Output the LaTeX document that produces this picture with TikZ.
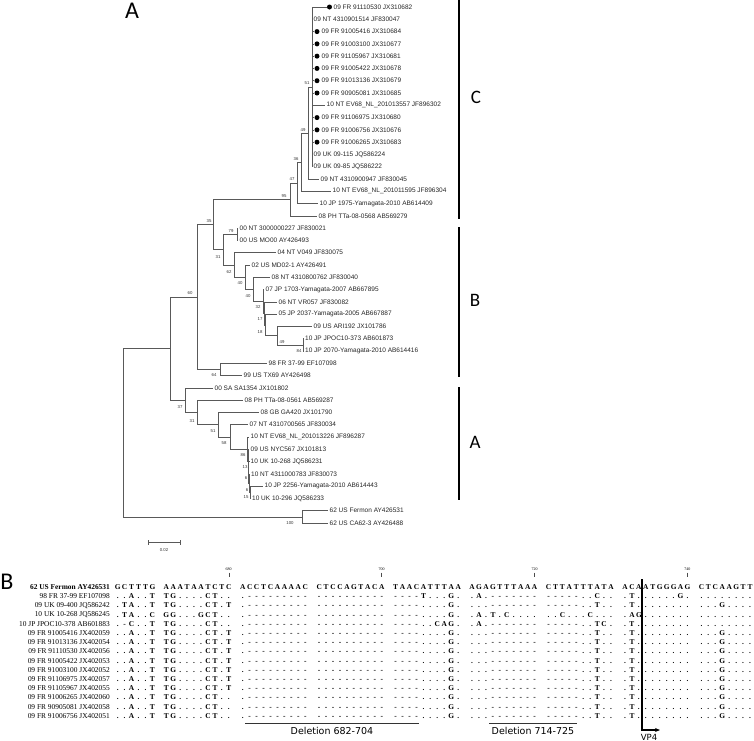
\documentclass[tikz,border=0pt]{standalone}
\usepackage{fontspec}
\newfontfamily\arialf{Liberation Sans}
\newfontfamily\timesf{Liberation Serif}
\newfontfamily\calf{Carlito}
\newfontfamily\verf{DejaVu Sans}
\usetikzlibrary{arrows.meta}
\def\seqrun#1{\ifx#1\relax\else\ifx#1,\makebox[6.95pt]{}\else\makebox[6.95pt][c]{#1}\fi\expandafter\seqrun\fi}
\tikzset{
  tl/.style={draw=black!65, line width=0.55pt},
  leaf/.style={font=\arialf\fontsize{6.5}{7}\selectfont, text=black!85, inner xsep=1.5pt, inner ysep=0pt, anchor=west},
  bs/.style={font=\arialf\fontsize{4.3}{5}\selectfont, text=black!80, inner sep=0pt},
  dotn/.style={circle, fill=black, minimum size=5pt, inner sep=0pt},
  clade/.style={draw=black, line width=1.1pt},
  cladelab/.style={font=\calf\fontsize{19}{20}\selectfont, inner sep=0pt},
  panel/.style={font=\calf\fontsize{24}{26}\selectfont, inner sep=0pt},
  sqname/.style={font=\timesf\fontsize{7.4}{8}\selectfont, anchor=east, inner sep=0pt},
  sq/.style={font=\timesf\bfseries\fontsize{7.4}{8}\selectfont, anchor=west, inner sep=0pt},
  tick/.style={font=\timesf\fontsize{4}{4.5}\selectfont, inner sep=0pt},
  dellab/.style={font=\verf\fontsize{9.5}{10}\selectfont, inner sep=0pt},
}
\begin{document}
\begin{tikzpicture}[x=1pt,y=-1pt]
\useasboundingbox (0,0) rectangle (754,740);
% ---------- panel labels
\node[panel] (pA) at (132,11) {A};
\node[panel] (pB) at (7,582) {B};
% ---------- internal nodes
\coordinate (nC51) at (312,86.86);
\coordinate (nC49) at (308,132.93);
\coordinate (nC36) at (301,162.11);
\coordinate (nC47) at (297,182.85);
\coordinate (nC95) at (290,199.35);
\coordinate (nB79) at (237,234.29);
\coordinate (nB84) at (303,344.86);
\coordinate (nB49) at (277,335.65);
\coordinate (nB18) at (265,324.9);
\coordinate (nB17) at (264,313.38);
\coordinate (nB32) at (263,301.48);
\coordinate (nB40b) at (253,289.39);
\coordinate (nB40a) at (245,277.19);
\coordinate (nB62) at (234,264.96);
\coordinate (nB31) at (223,249.62);
\coordinate (n35) at (213,224.49);
\coordinate (n64) at (220,369.44);
\coordinate (n60) at (197,296.96);
\coordinate (nA15) at (250,492.3);
\coordinate (nA6b) at (249,483.08);
\coordinate (nA6a) at (248.5,472.33);
\coordinate (nA13) at (248,460.81);
\coordinate (nA86) at (247.5,448.91);
\coordinate (nA58) at (230,436.82);
\coordinate (nA51) at (218,424.62);
\coordinate (nA31) at (197,412.39);
\coordinate (nA37) at (185,400.12);
\coordinate (n170) at (170,348.54);
\coordinate (nO) at (302,516.86);
\coordinate (root) at (123,432.7);
% ---------- leaves, clade C
\node[dotn] (D1) at (329.5,7) {};
\node[leaf] (L1) at (332,7) {09 FR 91110530 JX310682};
\node[leaf] (L2) at (312,19.29) {09 NT 4310901514 JF830047};
\node[dotn] (D3) at (317,31.57) {};
\node[leaf] (L3) at (320,31.57) {09 FR 91005416 JX310684};
\node[dotn] (D4) at (317,43.86) {};
\node[leaf] (L4) at (320,43.86) {09 FR 91003100 JX310677};
\node[dotn] (D5) at (317,56.14) {};
\node[leaf] (L5) at (320,56.14) {09 FR 91105967 JX310681};
\node[dotn] (D6) at (317,68.43) {};
\node[leaf] (L6) at (320,68.43) {09 FR 91005422 JX310678};
\node[dotn] (D7) at (317,80.72) {};
\node[leaf] (L7) at (320,80.72) {09 FR 91013136 JX310679};
\node[dotn] (D8) at (317,93.0) {};
\node[leaf] (L8) at (320,93.0) {09 FR 90905081 JX310685};
\node[leaf] (L9) at (325,105.29) {10 NT EV68\_NL\_201013557 JF896302};
\node[dotn] (D10) at (317,117.57) {};
\node[leaf] (L10) at (320,117.57) {09 FR 91106975 JX310680};
\node[dotn] (D11) at (317,129.86) {};
\node[leaf] (L11) at (320,129.86) {09 FR 91006756 JX310676};
\node[dotn] (D12) at (317,142.15) {};
\node[leaf] (L12) at (320,142.15) {09 FR 91006265 JX310683};
\node[leaf] (L13) at (312,154.43) {09 UK 09-115 JQ586224};
\node[leaf] (L14) at (312,166.72) {09 UK 09-85 JQ586222};
\node[leaf] (L15) at (319,179.0) {09 NT 4310900947 JF830045};
\node[leaf] (L16) at (331,191.29) {10 NT EV68\_NL\_201011595 JF896304};
\node[leaf] (L17) at (318,203.58) {10 JP 1975-Yamagata-2010 AB614409};
\node[leaf] (L18) at (317,215.86) {08 PH TTa-08-0568 AB569279};
% ---------- clade B
\node[leaf] (L19) at (238,228.15) {00 NT 3000000227 JF830021};
\node[leaf] (L20) at (238,240.43) {00 US MO00 AY426493};
\node[leaf] (L21) at (276,252.72) {04 NT V049 JF830075};
\node[leaf] (L22) at (250,265.0) {02 US MD02-1 AY426491};
\node[leaf] (L23) at (270,277.29) {08 NT 4310800762 JF830040};
\node[leaf] (L24) at (264,289.58) {07 JP 1703-Yamagata-2007 AB667895};
\node[leaf] (L25) at (277,301.86) {06 NT VR057 JF830082};
\node[leaf] (L26) at (277,314.15) {05 JP 2037-Yamagata-2005 AB667887};
\node[leaf] (L27) at (312,326.43) {09 US ARI192 JX101786};
\node[leaf] (L28) at (303.5,338.72) {10 JP JPOC10-373 AB601873};
\node[leaf] (L29) at (303.5,351.0) {10 JP 2070-Yamagata-2010 AB614416};
\node[leaf] (L30) at (267,363.29) {98 FR 37-99 EF107098};
\node[leaf] (L31) at (242,375.58) {99 US TX69 AY426498};
% ---------- clade A
\node[leaf] (L32) at (213,387.86) {00 SA SA1354 JX101802};
\node[leaf] (L33) at (243,400.15) {08 PH TTa-08-0561 AB569287};
\node[leaf] (L34) at (259,412.43) {08 GB GA420 JX101790};
\node[leaf] (L35) at (248,424.72) {07 NT 4310700565 JF830034};
\node[leaf] (L36) at (249,437.01) {10 NT EV68\_NL\_201013226 JF896287};
\node[leaf] (L37) at (249,449.29) {09 US NYC567 JX101813};
\node[leaf] (L38) at (249,461.58) {10 UK 10-268 JQ586231};
\node[leaf] (L39) at (249.5,473.86) {10 NT 4311000783 JF830073};
\node[leaf] (L40) at (263,486.15) {10 JP 2256-Yamagata-2010 AB614443};
\node[leaf] (L41) at (250.5,498.44) {10 UK 10-296 JQ586233};
\node[leaf] (L42) at (328,510.72) {62 US Fermon AY426531};
\node[leaf] (L43) at (328,523.0) {62 US CA62-3 AY426488};
% ---------- branches
\foreach \c in {D1,L2,D3,D4,D5,D6,D7,D8,L9,D10,D11,D12,L13,L14} \draw[tl] (nC51) |- (\c.west);
\draw[tl] (nC49) |- (nC51); \draw[tl] (nC49) |- (L15.west);
\draw[tl] (nC36) |- (nC49); \draw[tl] (nC36) |- (L16.west);
\draw[tl] (nC47) |- (nC36); \draw[tl] (nC47) |- (L17.west);
\draw[tl] (nC95) |- (nC47); \draw[tl] (nC95) |- (L18.west);
\draw[tl] (nB79) |- (L19.west); \draw[tl] (nB79) |- (L20.west);
\draw[tl] (nB84) |- (L28.west); \draw[tl] (nB84) |- (L29.west);
\draw[tl] (nB49) |- (L27.west); \draw[tl] (nB49) |- (nB84);
\draw[tl] (nB18) |- (L26.west); \draw[tl] (nB18) |- (nB49);
\draw[tl] (nB17) |- (L25.west); \draw[tl] (nB17) |- (nB18);
\draw[tl] (nB32) |- (L24.west); \draw[tl] (nB32) |- (nB17);
\draw[tl] (nB40b) |- (L23.west); \draw[tl] (nB40b) |- (nB32);
\draw[tl] (nB40a) |- (L22.west); \draw[tl] (nB40a) |- (nB40b);
\draw[tl] (nB62) |- (L21.west); \draw[tl] (nB62) |- (nB40a);
\draw[tl] (nB31) |- (nB79); \draw[tl] (nB31) |- (nB62);
\draw[tl] (n35) |- (nC95); \draw[tl] (n35) |- (nB31);
\draw[tl] (n64) |- (L30.west); \draw[tl] (n64) |- (L31.west);
\draw[tl] (n60) |- (n35); \draw[tl] (n60) |- (n64);
\draw[tl] (nA15) |- (L40.west); \draw[tl] (nA15) |- (L41.west);
\draw[tl] (nA6b) |- (L39.west); \draw[tl] (nA6b) |- (nA15);
\draw[tl] (nA6a) |- (L38.west); \draw[tl] (nA6a) |- (nA6b);
\draw[tl] (nA13) |- (L37.west); \draw[tl] (nA13) |- (nA6a);
\draw[tl] (nA86) |- (L36.west); \draw[tl] (nA86) |- (nA13);
\draw[tl] (nA58) |- (L35.west); \draw[tl] (nA58) |- (nA86);
\draw[tl] (nA51) |- (L34.west); \draw[tl] (nA51) |- (nA58);
\draw[tl] (nA31) |- (L33.west); \draw[tl] (nA31) |- (nA51);
\draw[tl] (nA37) |- (L32.west); \draw[tl] (nA37) |- (nA31);
\draw[tl] (n170) |- (n60); \draw[tl] (n170) |- (nA37);
\draw[tl] (nO) |- (L42.west); \draw[tl] (nO) |- (L43.west);
\draw[tl] (root) |- (n170); \draw[tl] (root) |- (nO);
% ---------- bootstrap values
\node[bs] (b1) at (307,83) {51};
\node[bs] (b2) at (303,130) {49};
\node[bs] (b3) at (296,159) {36};
\node[bs] (b4) at (292,179) {47};
\node[bs] (b5) at (284,196) {95};
\node[bs] (b6) at (209,221) {35};
\node[bs] (b7) at (231,231) {79};
\node[bs] (b8) at (218,257) {31};
\node[bs] (b9) at (229,272) {62};
\node[bs] (b10) at (240,283) {40};
\node[bs] (b11) at (248,296) {40};
\node[bs] (b12) at (258,307) {32};
\node[bs] (b13) at (260,319) {17};
\node[bs] (b14) at (260,332) {18};
\node[bs] (b15) at (282,342) {49};
\node[bs] (b16) at (299,351) {84};
\node[bs] (b17) at (190,293) {60};
\node[bs] (b18) at (214,375) {64};
\node[bs] (b19) at (180,407) {37};
\node[bs] (b20) at (192,421) {31};
\node[bs] (b21) at (213,431) {51};
\node[bs] (b22) at (224,443) {58};
\node[bs] (b23) at (243,455) {86};
\node[bs] (b24) at (245,467) {13};
\node[bs] (b25) at (246,478) {6};
\node[bs] (b26) at (247,490) {6};
\node[bs] (b27) at (246,497) {15};
\node[bs] (b28) at (290,523) {100};
% ---------- clade bars
\draw[clade] (459,0) -- (459,219);
\draw[clade] (459,227) -- (459,377);
\draw[clade] (459,387) -- (459,500);
\node[cladelab] (cC) at (476,97) {C};
\node[cladelab] (cB) at (475,300) {B};
\node[cladelab] (cA) at (475,442) {A};
% ---------- scale bar
\coordinate (sb1) at (148,542); \coordinate (sb2) at (180,542);
\draw[tl] (sb1) -- (sb2);
\draw[tl] ([yshift=-2.5pt]sb1) -- ([yshift=2.5pt]sb1);
\draw[tl] ([yshift=-2.5pt]sb2) -- ([yshift=2.5pt]sb2);
\node[bs] (sbl) at (164,550) {0.02};
% ---------- alignment: position ticks
\foreach \x/\t in {228.7/680,381.6/700,534.5/720,687.4/740}{
  \node[tick] at (\x,569) {\t};
  \draw[black!70, line width=0.4pt] (\x,572.5) -- (\x,577);
}
% ---------- alignment rows
\node[sqname,font=\timesf\bfseries\fontsize{7.4}{8}\selectfont] (m0) at (110,587) {62 US Fermon AY426531};
\node[sq] (s0) at (114,587) {\seqrun GCTTTG,AAATAATCTC,ACCTCAAAAC,CTCCAGTACA,TAACATTTAA,AGAGTTTAAA,CTTATTTATA,ACAATGGGAG,CTCAAGTT\relax};
\node[sqname] (m1) at (110,596.2) {98 FR 37-99 EF107098};
\node[sq] (s1) at (114,596.2) {\seqrun ..A..T,TG....CT..,.---------,----------,----T...G.,.A.-------,-----..C..,.T......G.,........\relax};
\node[sqname] (m2) at (110,605.4) {09 UK 09-400 JQ586242};
\node[sq] (s2) at (114,605.4) {\seqrun .TA..T,TG....CT.T,.---------,----------,----....G.,...-------,-----..T..,.T........,...G....\relax};
\node[sqname] (m3) at (110,614.6) {10 UK 10-268 JQ586245};
\node[sq] (s3) at (114,614.6) {\seqrun .TA..C,GG...GCT..,.---------,----------,----....G.,.A.T.C....,..C...C...,.AG.......,........\relax};
\node[sqname] (m4) at (110,623.8) {10 JP JPOC10-378 AB601883};
\node[sq] (s4) at (114,623.8) {\seqrun .-C..T,TG....CT..,.---------,----------,----..CAG.,.A.-------,-----..TC.,.T........,........\relax};
\foreach \i/\nm/\gb in {5/09 FR 91005416 JX402059/CT.T,6/09 FR 91013136 JX402054/CT.T,7/09 FR 91110530 JX402056/CT.T,8/09 FR 91005422 JX402053/CT.T,9/09 FR 91003100 JX402052/CT.T,10/09 FR 91106975 JX402057/CT.T,11/09 FR 91105967 JX402055/CT.T,12/09 FR 91006265 JX402060/CT..,13/09 FR 90905081 JX402058/CT..,14/09 FR 91006756 JX402051/CT..}{
  \pgfmathsetmacro{\yy}{587+9.2*\i}
  \edef\rowtxt{..A..T,TG....\gb,.---------,----------,----....G.,...-------,-----..T..,.T........,...G....}
  \node[sqname] (m\i) at (110,\yy) {\nm};
  \node[sq] (s\i) at (114,\yy) {\expandafter\seqrun\rowtxt\relax};
}
% ---------- deletions and VP4
\coordinate (d1a) at (245,723); \coordinate (d1b) at (419,723);
\coordinate (d2a) at (489,723); \coordinate (d2b) at (577,723);
\draw[black!80, line width=0.7pt] (d1a) -- (d1b);
\draw[black!80, line width=0.7pt] (d2a) -- (d2b);
\node[dellab] (dl1) at (332,731) {Deletion 682-704};
\node[dellab] (dl2) at (533,731) {Deletion 714-725};
\coordinate (vpTop) at (642,579);
\coordinate (vpCorner) at (642,730);
\coordinate (vpTip) at (660,730);
\draw[black, line width=1.4pt, -{Stealth[length=5pt,width=4pt]}] (vpTop) -- (vpCorner) -- (vpTip);
\node[dellab, font=\verf\fontsize{8.5}{9}\selectfont] (vp4) at (649,737.5) {VP4};
\end{tikzpicture}
\end{document}
